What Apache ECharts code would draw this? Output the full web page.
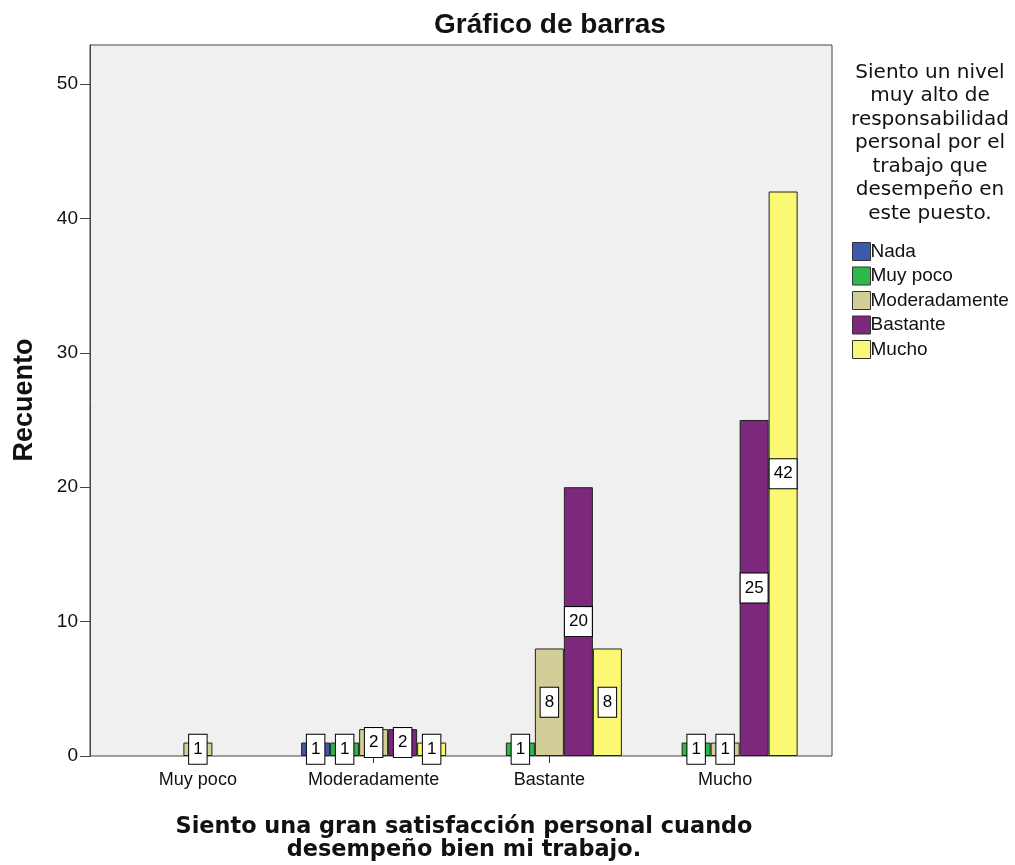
<!DOCTYPE html>
<html><head><meta charset="utf-8">
<script src="https://cdn.jsdelivr.net/npm/echarts@6/dist/echarts.min.js"></script>
<style>html,body{margin:0;padding:0;background:#fff}#c{width:1015px;height:865px}</style>
</head><body><div id="c"></div>
<script>
const categories = ['Muy poco', 'Moderadamente', 'Bastante', 'Mucho'];
const seriesNames = ['Nada', 'Muy poco', 'Moderadamente', 'Bastante', 'Mucho'];
const nada          = [0, 1, 0, 0];
const muyPoco       = [0, 1, 1, 1];
const moderadamente = [1, 2, 8, 1];
const bastante      = [0, 2, 20, 25];
const mucho         = [0, 1, 8, 42];
const yTicks = [0, 10, 20, 30, 40, 50];
const colors = ['#3E58AC', '#2EB848', '#D3CE97', '#7C287D', '#FBF873'];
const legendTitle = 'Siento un nivel\nmuy alto de\nresponsabilidad\npersonal por el\ntrabajo que\ndesempeño en\neste puesto.';
const xTitle = 'Siento una gran satisfacción personal cuando\ndesempeño bien mi trabajo.';

const values = [nada, muyPoco, moderadamente, bastante, mucho];
const FONT = 'Arial, "Liberation Sans", sans-serif';
const DV = '"DejaVu Sans", sans-serif';
const YMAX = 52.9;

const series = seriesNames.map((name, i) => ({
  name: name,
  type: 'bar',
  xAxisIndex: 0, yAxisIndex: 0,
  barWidth: 29,
  barGap: '0%',
  itemStyle: { color: colors[i], borderColor: '#222', borderWidth: 1 },
  label: {
    show: true, position: 'inside', color: '#000', fontFamily: FONT, fontSize: 17,
    backgroundColor: '#fff', borderColor: '#000', borderWidth: 1, padding: [6, 4], lineHeight: 17
  },
  data: values[i].map(v => v > 0 ? { value: v } : { value: v, label: { show: false }, itemStyle: { borderWidth: 0 } })
}));

const chart = echarts.init(document.getElementById('c'), null, { renderer: 'canvas' });
chart.setOption({
  animation: false,
  backgroundColor: '#fff',
  color: colors,
  grid: [
    { left: 110, right: 202, top: 45, bottom: 109, show: false },
    { left: 90, right: 183, top: 45, bottom: 109, show: true, backgroundColor: '#F0F0F0', borderColor: '#444', borderWidth: 1, z: 0 }
  ],
  xAxis: [
    { type: 'category', gridIndex: 0, data: categories,
      axisLine: { show: false },
      axisTick: { show: true, alignWithLabel: true, length: 7, lineStyle: { color: '#333' } },
      axisLabel: { color: '#111', fontFamily: FONT, fontSize: 18, margin: 15 } },
    { type: 'value', gridIndex: 1, show: false, min: 0, max: 1 }
  ],
  yAxis: [
    { type: 'value', gridIndex: 0, show: false, min: 0, max: YMAX },
    { type: 'value', gridIndex: 1, min: 0, max: YMAX, interval: 10,
      axisLine: { show: true, lineStyle: { color: '#444' } },
      axisTick: { show: true, length: 10, customValues: yTicks, lineStyle: { color: '#444' } },
      axisLabel: { customValues: yTicks, color: '#111', fontFamily: FONT, fontSize: 19, margin: 12 },
      splitLine: { show: false } }
  ],
  legend: {
    orient: 'vertical', left: 847, top: 237,
    itemWidth: 18, itemHeight: 18, itemGap: 5.5,
    icon: 'rect',
    itemStyle: { borderColor: '#333', borderWidth: 1 },
    textStyle: { fontFamily: FONT, fontSize: 19, lineHeight: 18, color: '#111', padding: [0, 0, 0, -5] },
    data: seriesNames
  },
  graphic: [
    { type: 'text', style: { text: 'Gráfico de barras', x: 550, y: 25, textAlign: 'center', textVerticalAlign: 'middle', font: 'bold 28px ' + FONT, fill: '#111' } },
    { type: 'text', style: { text: 'Recuento', x: 25, y: 400, textAlign: 'center', textVerticalAlign: 'middle', font: 'bold 27px ' + FONT, fill: '#111' }, rotation: Math.PI / 2, x: 0, y: 0, originX: 25, originY: 400 },
    { type: 'text', style: { text: xTitle, x: 464, y: 815, textAlign: 'center', font: 'bold 22.4px ' + DV, fill: '#111', lineHeight: 23.5 } },
    { type: 'text', style: { text: legendTitle, x: 930, y: 61, textAlign: 'center', font: '20px ' + DV, fill: '#111', lineHeight: 23.5 } }
  ],
  series: series
});
</script></body></html>
